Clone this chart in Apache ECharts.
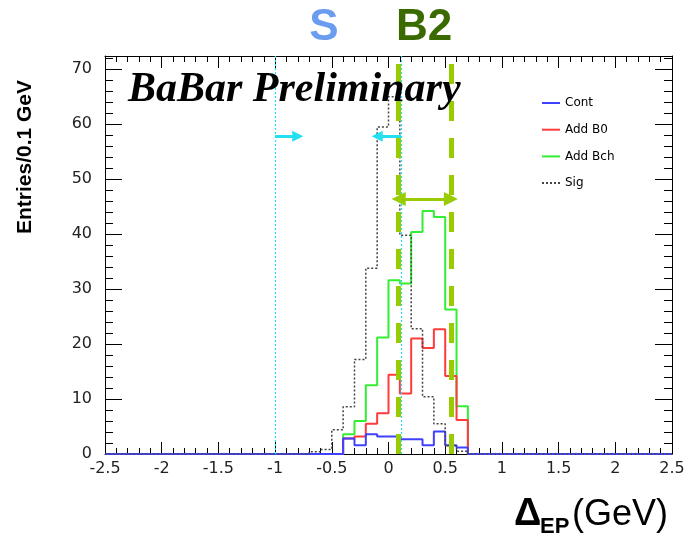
<!DOCTYPE html>
<html>
<head>
<meta charset="utf-8">
<script src="https://cdn.jsdelivr.net/npm/echarts@6/dist/echarts.min.js"></script>
<style>
  html, body { margin: 0; padding: 0; background: #fff; }
  #chart { width: 691px; height: 540px; }
</style>
</head>
<body>
<div id="chart"></div>
<script>
// lower edges of the 0.1 GeV bins that have entries (all other bins are empty)
const binEdges = [-0.7, -0.6, -0.5, -0.4, -0.3, -0.2, -0.1, 0.0, 0.1, 0.2, 0.3, 0.4, 0.5, 0.6];
const cont   = [0, 0, 0, 2.8, 1.6, 3.6, 3.2, 3.2, 2.7, 2.7, 1.6, 4.1, 1.6, 1.2];
const addB0  = [0, 0, 0, 2.8, 3.2, 5.5, 7.4, 14.4, 11, 21, 19.3, 22.7, 14.2, 6.2];
const addBch = [0, 0, 0, 3.6, 6, 12.5, 21.2, 31.6, 31, 40.4, 44.2, 43.1, 26.3, 8.7];
const sig    = [0.4, 0.8, 4.4, 8.6, 17.2, 33.8, 59.5, 65, 39.8, 22.8, 10.4, 5.5, 1.5, 0.5];
const binWidth = 0.1;
const xRange = [-2.5, 2.5];
const yMax = 72.4;

// signal window S (cyan) and B2 window (green overlay)
const sCut = [-1.0, 0.11];
const sArrowEnd = [-0.8, -0.1];
const sArrowY = 57.8;
const b2Cut = [0.09, 0.55];
const b2ArrowY = 46.4;

const chartDom = document.getElementById('chart');
const myChart = echarts.init(chartDom);

// histogram as step line: one point per bin low edge
function histo(vals) {
  let pts = [[xRange[0], 0]];
  vals.forEach((v, i) => pts.push([binEdges[i], v]));
  pts.push([+(binEdges[binEdges.length - 1] + binWidth).toFixed(2), 0]);
  pts.push([xRange[1], 0]);
  return pts;
}

const tickFont = { color: '#222', fontSize: 16, fontFamily: 'DejaVu Sans' };

function xAx(pos, showLabel) {
  return {
    type: 'value', position: pos, min: xRange[0], max: xRange[1], interval: 0.5,
    axisLine: { show: true, onZero: false, lineStyle: { color: '#000', width: 1 } },
    axisTick: { show: true, inside: true, length: 12, lineStyle: { color: '#000' } },
    minorTick: { show: true, splitNumber: 5, length: 6, lineStyle: { color: '#000' } },
    axisLabel: Object.assign({ show: showLabel, margin: 7 }, tickFont),
    splitLine: { show: false }
  };
}

function yAx(pos, interval, len, showLabel, showLine) {
  return {
    type: 'value', position: pos, min: 0, max: yMax, interval: interval,
    axisLine: { show: showLine, onZero: false, lineStyle: { color: '#000', width: 1 } },
    axisTick: { show: true, inside: true, length: len, lineStyle: { color: '#000' } },
    axisLabel: Object.assign({
      show: showLabel, margin: 13,
      formatter: v => (Math.abs(v % 10) < 1e-6 ? String(v) : '')
    }, tickFont),
    splitLine: { show: false }
  };
}

const green = '#99cc00';
const cyan = '#22e0f0';

let option = {
  animation: false,
  backgroundColor: '#fff',
  grid: { left: 105, right: 19, top: 56, bottom: 86 },
  xAxis: [xAx('bottom', true), xAx('top', false)],
  yAxis: [
    yAx('left', 10, 17, true, true),
    yAx('left', 2, 8, false, false),
    yAx('right', 10, 17, false, true),
    yAx('right', 2, 8, false, false)
  ],
  legend: {
    orient: 'vertical',
    left: 536,
    top: 92,
    itemWidth: 18,
    itemHeight: 10,
    itemGap: 14.7,
    itemStyle: { opacity: 0 },  // only the line in the legend icon
    data: ['Cont', 'Add B0', 'Add Bch', 'Sig'],
    textStyle: { color: '#000', fontSize: 12, fontFamily: 'DejaVu Sans' }
  },
  series: [
    {
      name: 'Add Bch', type: 'line', step: 'end', symbol: 'none',
      data: histo(addBch), color: '#33ee33', lineStyle: { width: 2, color: '#33ee33' }
    },
    {
      name: 'Add B0', type: 'line', step: 'end', symbol: 'none',
      data: histo(addB0), color: '#ff3b3b', lineStyle: { width: 2, color: '#ff3b3b' }
    },
    {
      name: 'Cont', type: 'line', step: 'end', symbol: 'none',
      data: histo(cont), color: '#4040ff', lineStyle: { width: 2, color: '#4040ff' }
    },
    {
      name: 'Sig', type: 'line', step: 'end', symbol: 'none',
      data: histo(sig), color: '#444', lineStyle: { width: 1.5, color: '#444', type: [2, 2] },
      markLine: {
        silent: true,
        symbol: ['none', 'none'],
        label: { show: false },
        emphasis: { disabled: true },
        data: [
          // S window edges (cyan dotted)
          { xAxis: sCut[0], lineStyle: { color: cyan, width: 1.2, type: [2, 2] } },
          { xAxis: sCut[1], lineStyle: { color: cyan, width: 1.2, type: [2, 2] } },
          [
            { coord: [sCut[0], sArrowY], symbol: 'none', lineStyle: { color: cyan, width: 3, type: 'solid' } },
            { coord: [sArrowEnd[0], sArrowY], symbol: 'triangle', symbolSize: 11 }
          ],
          [
            { coord: [sCut[1], sArrowY], symbol: 'none', lineStyle: { color: cyan, width: 3, type: 'solid' } },
            { coord: [sArrowEnd[1], sArrowY], symbol: 'triangle', symbolSize: 11 }
          ],
          // B2 window (green dashed overlay)
          { xAxis: b2Cut[0], lineStyle: { color: green, width: 5, type: [20, 17] } },
          { xAxis: b2Cut[1], lineStyle: { color: green, width: 5, type: [20, 17] } },
          [
            { coord: [b2Cut[0], b2ArrowY], symbol: 'triangle', symbolSize: 14, lineStyle: { color: green, width: 3, type: 'solid' } },
            { coord: [b2Cut[1], b2ArrowY], symbol: 'triangle', symbolSize: 14 }
          ]
        ]
      }
    }
  ],
  graphic: [
    {
      type: 'text', x: 324, y: 28,
      style: { text: 'S', align: 'center', verticalAlign: 'middle', fill: '#6a9cf0',
        font: 'bold 44px "Liberation Sans"' }
    },
    {
      type: 'text', x: 424, y: 28,
      style: { text: 'B2', align: 'center', verticalAlign: 'middle', fill: '#3a6a00',
        font: 'bold 44px "Liberation Sans"' }
    },
    {
      type: 'text', x: 128, y: 90, z: 10,
      style: { text: 'BaBar Preliminary', align: 'left', verticalAlign: 'middle', fill: '#000',
        font: 'italic bold 42px "Liberation Serif"' }
    },
    {
      type: 'text', x: 25, y: 157, rotation: Math.PI / 2,
      style: { text: 'Entries/0.1 GeV', align: 'center', verticalAlign: 'middle', fill: '#000',
        font: 'bold 21px "Liberation Sans"' }
    },
    {
      type: 'text', x: 514, y: 515,
      style: { text: 'Δ', align: 'left', verticalAlign: 'middle', fill: '#000',
        font: 'bold 38px "Liberation Sans"' }
    },
    {
      type: 'text', x: 540, y: 527,
      style: { text: 'EP', align: 'left', verticalAlign: 'middle', fill: '#000',
        font: 'bold 22px "Liberation Sans"' }
    },
    {
      type: 'text', x: 668, y: 515,
      style: { text: '(GeV)', align: 'right', verticalAlign: 'middle', fill: '#000',
        font: '36px "Liberation Sans"' }
    }
  ]
};

option && myChart.setOption(option);
</script>
</body>
</html>
